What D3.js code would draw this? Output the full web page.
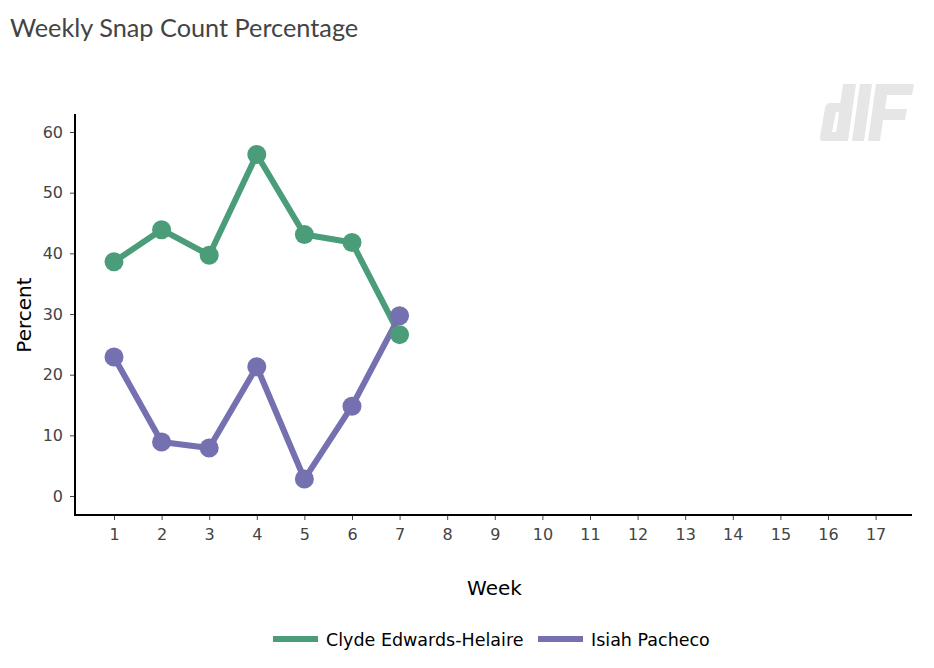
<!DOCTYPE html>
<html>
<head>
<meta charset="utf-8">
<script src="https://cdn.jsdelivr.net/npm/d3@7"></script>
<style>
  body { margin: 0; background: #fff; }
  svg { display: block; }
</style>
</head>
<body>
<div id="chart"></div>
<script>
const weeks = [1, 2, 3, 4, 5, 6, 7];
const xTickValues = [1, 2, 3, 4, 5, 6, 7, 8, 9, 10, 11, 12, 13, 14, 15, 16, 17];
const yTickValues = [0, 10, 20, 30, 40, 50, 60];
const seriesNames = ["Clyde Edwards-Helaire", "Isiah Pacheco"];
const seriesColors = ["#4b9d7a", "#7570b0"];
const cehValues = [38.6, 43.9, 39.7, 56.3, 43.1, 41.8, 26.6];
const pachecoValues = [22.9, 8.9, 7.9, 21.3, 2.8, 14.8, 29.7];
const titleText = "Weekly Snap Count Percentage";
const xLabel = "Week";
const yLabel = "Percent";

const W = 934, H = 668;
const plot = { left: 75, right: 912, top: 114, bottom: 515 };
const FONT = "'DejaVu Sans', Verdana, sans-serif";

const svg = d3.select("#chart").append("svg").attr("width", W).attr("height", H);

const x = d3.scaleLinear().domain([0.181, 17.765]).range([plot.left, plot.right]);
const y = d3.scaleLinear().domain([-3.13, 62.97]).range([plot.bottom, plot.top]);

// Title
svg.append("text").attr("x", 10).attr("y", 37)
  .attr("font-family", "Lato, 'Open Sans', sans-serif").attr("font-size", 25.3)
  .attr("fill", "#444").text(titleText);

// Logo (decorative)
const logo = svg.append("g").attr("fill", "#e6e6e6");
logo.append("path").attr("d", "M 830 103 L 845 103 L 843 112 L 836 112 L 832 132 L 839 132 L 837 141 L 823 141 Q 819 141 820 137 L 825 108 Q 826 103 830 103 Z");
logo.append("path").attr("d", "M 843 84 L 856 84 L 848 141 L 835 141 Z");
logo.append("path").attr("d", "M 860 84 L 872 84 L 864 141 L 852 141 Z");
logo.append("path").attr("d", "M 876 84 L 914 84 L 912 95 L 887 95 L 885 109 L 907 109 L 905 120 L 883 120 L 880 141 L 868 141 Z");

// Axes
const yAxis = d3.axisLeft(y).tickValues(yTickValues).tickSize(5).tickPadding(7);
const gy = svg.append("g").attr("transform", `translate(${plot.left},0)`).call(yAxis);
const xAxis = d3.axisBottom(x).tickValues(xTickValues).tickSize(5).tickPadding(9);
const gx = svg.append("g").attr("transform", `translate(0,${plot.bottom})`).call(xAxis);

[gx, gy].forEach(g => {
  g.select(".domain").remove();
  g.selectAll(".tick line").attr("stroke", "#444").attr("stroke-width", 1);
  g.selectAll(".tick text").attr("font-family", FONT)
    .attr("font-size", 16).attr("fill", "#444");
});

svg.append("line").attr("x1", plot.left).attr("x2", plot.left)
  .attr("y1", plot.top).attr("y2", plot.bottom + 1)
  .attr("stroke", "#000").attr("stroke-width", 2);
svg.append("line").attr("x1", plot.left - 1).attr("x2", plot.right)
  .attr("y1", plot.bottom).attr("y2", plot.bottom)
  .attr("stroke", "#000").attr("stroke-width", 2);

// Axis titles
svg.append("text").attr("x", 494.5).attr("y", 595)
  .attr("text-anchor", "middle").attr("font-family", FONT)
  .attr("font-size", 20).attr("fill", "#000").text(xLabel);
svg.append("text").attr("transform", `translate(31,315) rotate(-90)`)
  .attr("text-anchor", "middle").attr("font-family", FONT)
  .attr("font-size", 20).attr("fill", "#000").text(yLabel);

// Data
const series = [
  { name: seriesNames[0], color: seriesColors[0], values: cehValues },
  { name: seriesNames[1], color: seriesColors[1], values: pachecoValues }
];

const line = d3.line().x((d, i) => x(weeks[i])).y(d => y(d));

series.forEach(s => {
  svg.append("path").datum(s.values).attr("d", line)
    .attr("fill", "none").attr("stroke", s.color).attr("stroke-width", 6)
    .attr("stroke-linejoin", "round");
});
series.forEach(s => {
  svg.append("g").selectAll("circle").data(s.values).join("circle")
    .attr("cx", (d, i) => x(weeks[i])).attr("cy", d => y(d)).attr("r", 9.5)
    .attr("fill", s.color);
});

// Legend
const legend = svg.append("g");
const legendX = [273, 538];
series.forEach((s, i) => {
  legend.append("line").attr("x1", legendX[i]).attr("x2", legendX[i] + 45)
    .attr("y1", 639).attr("y2", 639).attr("stroke", s.color).attr("stroke-width", 6);
  legend.append("text").attr("x", legendX[i] + 53).attr("y", 645.5)
    .attr("font-family", FONT).attr("font-size", 17.5)
    .attr("fill", "#000").text(s.name);
});
</script>
</body>
</html>
